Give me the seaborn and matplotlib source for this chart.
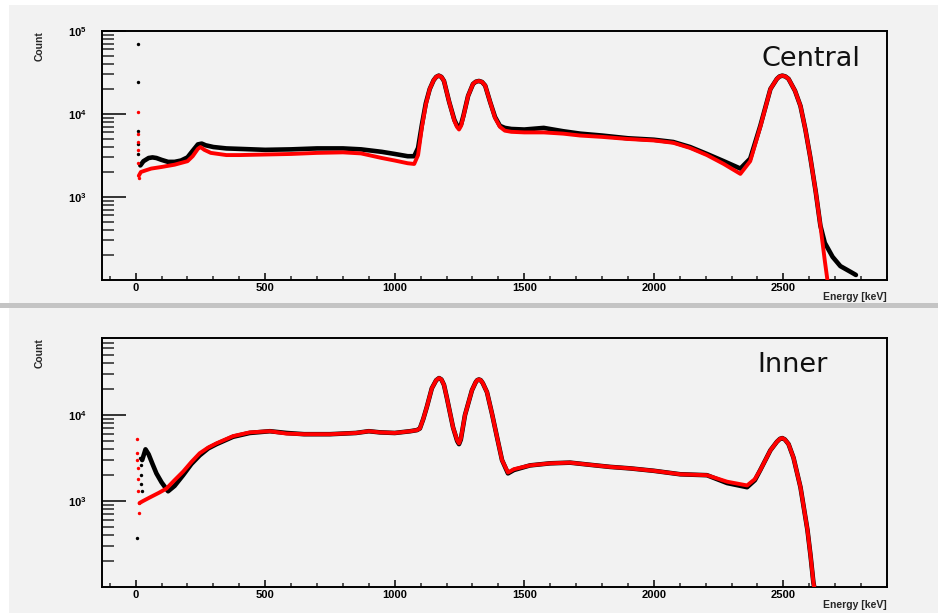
import math
import matplotlib
matplotlib.use("Agg")
import matplotlib.pyplot as plt
import seaborn as sns
from matplotlib.ticker import FixedLocator, MultipleLocator, NullFormatter, FuncFormatter
from matplotlib.patches import Rectangle

sns.set_theme(style="ticks")
plt.rcParams['font.family'] = ['Liberation Sans', 'DejaVu Sans']
plt.rcParams['mathtext.default'] = 'regular'

# ---------------- data ----------------
# Top panel "Central"
top_black_E = [18, 30, 50, 65, 80, 100, 125, 150, 175, 200, 220, 240, 255, 270, 300, 350, 400,
               500, 600, 700, 800, 870, 950, 1000, 1050, 1075, 1090, 1105, 1120, 1135, 1150, 1160, 1170,
               1180, 1190, 1210, 1230, 1240, 1248, 1256, 1265, 1283, 1302, 1313, 1325, 1337, 1349, 1368, 1387,
               1406, 1425, 1450, 1500, 1575, 1650, 1716, 1800, 1900, 2000, 2075, 2140, 2205, 2270, 2334,
               2372, 2411, 2450, 2475, 2485, 2496, 2508, 2520, 2545, 2566, 2585, 2604, 2625, 2643, 2660,
               2690, 2720, 2760, 2780]
top_black_C = [2400, 2700, 2950, 3000, 2950, 2800, 2650, 2650, 2750, 3000, 3600, 4300, 4400, 4200, 4000, 3850, 3800,
               3700, 3750, 3850, 3850, 3750, 3500, 3300, 3100, 3100, 3900, 7500, 13500, 20000, 25500, 28000, 29000,
               28000, 25000, 14000, 8500, 7300, 6900, 7500, 9500, 16500, 23000, 24500, 25000, 24300, 22000, 14000, 9200,
               7200, 6800, 6600, 6500, 6800, 6200, 5800, 5500, 5100, 4900, 4600, 4000, 3300, 2700, 2200,
               2900, 7200, 20000, 26500, 28300, 29000, 28300, 26500, 19000, 12500, 6500, 3000, 1150, 450, 280,
               190, 147, 125, 115]
top_red_E = [12, 20, 40, 60, 100, 150, 200, 220, 240, 250, 265, 290, 350, 400,
             500, 600, 700, 800, 870, 950, 1000, 1050, 1075, 1090, 1105, 1120, 1135, 1150, 1160, 1170,
             1180, 1190, 1210, 1230, 1240, 1248, 1256, 1265, 1283, 1302, 1313, 1325, 1337, 1349, 1368, 1387,
             1406, 1425, 1450, 1500, 1575, 1650, 1716, 1800, 1900, 2000, 2075, 2140, 2205, 2270, 2334,
             2372, 2411, 2450, 2475, 2485, 2496, 2508, 2520, 2545, 2566, 2585, 2604, 2625, 2643, 2660, 2672]
top_red_C = [1800, 2000, 2100, 2200, 2300, 2450, 2700, 3100, 3800, 4000, 3700, 3400, 3200, 3200,
             3250, 3300, 3400, 3450, 3350, 2950, 2750, 2550, 2500, 3200, 7000, 13000, 20000, 25500, 28000, 29000,
             28000, 25000, 14000, 8300, 7000, 6500, 7200, 9300, 16500, 23000, 24500, 25000, 24300, 22000, 14000, 9000,
             7000, 6300, 6100, 6000, 6000, 5800, 5500, 5300, 5000, 4800, 4500, 3900, 3200, 2500, 1900,
             2700, 7000, 20000, 26500, 28300, 29000, 28300, 26500, 19000, 12500, 6500, 3000, 1150, 450, 170, 90]
top_black_spike_E = [8, 8, 9, 9, 10]
top_black_spike_C = [69000, 24000, 6300, 4300, 3300]
top_red_spike_E = [8, 9, 9, 10, 10, 11]
top_red_spike_C = [10500, 5800, 4600, 3700, 2600, 1700]

# Bottom panel "Inner"
bot_black_E = [25, 38, 50, 65, 80, 100, 125, 150, 183, 215, 247, 280, 312, 376, 440, 518, 582,
               650, 750, 850, 900, 943, 1000, 1060, 1086, 1097, 1110, 1124, 1143, 1160, 1171,
               1180, 1190, 1201, 1225, 1241, 1248, 1255, 1271, 1298, 1312, 1318, 1325, 1332, 1340, 1356, 1375,
               1395, 1414, 1437, 1460, 1522, 1600, 1677, 1750, 1830, 1909, 2000, 2102, 2205, 2283, 2360,
               2390, 2411, 2450, 2475, 2487, 2496, 2506, 2520, 2539, 2566, 2593, 2605, 2616, 2622]
bot_black_C = [3000, 4000, 3500, 2700, 2100, 1650, 1300, 1500, 2000, 2700, 3400, 4100, 4600, 5600, 6200, 6500, 6200,
               6000, 6000, 6200, 6500, 6300, 6200, 6500, 6700, 7000, 9000, 12500, 20500, 25500, 27000,
               26000, 22500, 16000, 7200, 5000, 4600, 5200, 10000, 19500, 24000, 25500, 26000, 25500, 23500, 18500, 10500,
               5500, 3000, 2100, 2300, 2600, 2750, 2800, 2650, 2500, 2400, 2250, 2050, 2000, 1620, 1450,
               1750, 2300, 3900, 4900, 5300, 5400, 5200, 4600, 3200, 1450, 460, 230, 112, 90]
bot_red_E = [15, 28, 54, 90, 119, 150, 183, 215, 247, 280, 312, 376, 440, 518, 582,
             650, 750, 850, 900, 943, 1000, 1060, 1086, 1097, 1110, 1124, 1143, 1160, 1171,
             1180, 1190, 1201, 1225, 1241, 1248, 1255, 1271, 1298, 1312, 1318, 1325, 1332, 1340, 1356, 1375,
             1395, 1414, 1437, 1460, 1522, 1600, 1677, 1750, 1830, 1909, 2000, 2102, 2205, 2283, 2360,
             2390, 2411, 2450, 2475, 2487, 2496, 2506, 2520, 2539, 2566, 2593, 2605, 2616, 2622]
bot_red_C = [950, 1000, 1100, 1250, 1400, 1750, 2200, 2850, 3600, 4200, 4700, 5700, 6300, 6500, 6100,
             6000, 6000, 6200, 6500, 6300, 6200, 6500, 6700, 7000, 9000, 12500, 20500, 25500, 27000,
             26000, 22500, 16000, 7200, 5100, 4700, 5300, 10000, 19500, 24000, 25500, 26000, 25500, 23500, 18500, 10500,
             5500, 3000, 2150, 2350, 2600, 2750, 2800, 2650, 2500, 2400, 2250, 2050, 2000, 1680, 1520,
             1800, 2300, 3900, 4900, 5300, 5400, 5200, 4600, 3200, 1450, 460, 230, 112, 90]
bot_black_spike_E = [5, 18, 20, 21, 22, 23]
bot_black_spike_C = [370, 3200, 2600, 2000, 1600, 1300]
bot_red_spike_E = [5, 6, 7, 8, 9, 10, 12, 14]
bot_red_spike_C = [5300, 3600, 3000, 2400, 1800, 1300, 950, 730]

panel_titles = ["Central", "Inner"]
x_ticks = [0, 500, 1000, 1500, 2000, 2500]

# ---------------- figure ----------------
W, H = 938, 613
fig = plt.figure(figsize=(W / 100, H / 100), dpi=100, facecolor='white')
BG = '#f2f2f2'


def fx(px):
    return px / W


def fy(py):
    return 1 - py / H


fig.add_artist(Rectangle((fx(9), fy(303)), 1, fy(5) - fy(303), transform=fig.transFigure,
                         facecolor=BG, edgecolor='none', zorder=0))
fig.add_artist(Rectangle((fx(9), 0), 1, fy(308), transform=fig.transFigure,
                         facecolor=BG, edgecolor='none', zorder=0))
fig.add_artist(Rectangle((0, fy(308)), 1, fy(303) - fy(308), transform=fig.transFigure,
                         facecolor='#c4c4c4', edgecolor='none', zorder=0))


def make_axes(top, bottom):
    ax = fig.add_axes([fx(102), fy(bottom), fx(887) - fx(102), fy(top) - fy(bottom)])
    ax.set_facecolor(BG)
    return ax


ax1 = make_axes(31, 280)
ax2 = make_axes(338, 587)

panels = [
    (ax1, top_black_E, top_black_C, top_red_E, top_red_C,
     top_black_spike_E, top_black_spike_C, top_red_spike_E, top_red_spike_C, (100, 1e5), [1e3, 1e4, 1e5]),
    (ax2, bot_black_E, bot_black_C, bot_red_E, bot_red_C,
     bot_black_spike_E, bot_black_spike_C, bot_red_spike_E, bot_red_spike_C, (100, 7.9e4), [1e3, 1e4]),
]

for (ax, bE, bC, rE, rC, bsE, bsC, rsE, rsC, ylim, majors) in panels:
    sns.lineplot(x=bE, y=bC, ax=ax, color='black', lw=3.3, sort=False, estimator=None, zorder=3,
                 solid_joinstyle='round', solid_capstyle='round')
    sns.scatterplot(x=bsE, y=bsC, ax=ax, color='black', s=6, linewidth=0, zorder=3)
    sns.lineplot(x=rE, y=rC, ax=ax, color='#ff0000', lw=2.8, sort=False, estimator=None, zorder=4,
                 solid_joinstyle='round', solid_capstyle='round')
    sns.scatterplot(x=rsE, y=rsC, ax=ax, color='#ff0000', s=6, linewidth=0, zorder=4)
    ax.set_yscale('log')
    ax.set_xlim(-130, 2900)
    ax.set_ylim(*ylim)
    ax.yaxis.set_major_locator(FixedLocator(majors))
    minors = [m * 10 ** d for d in range(2, 5) for m in range(2, 10)]
    ax.yaxis.set_minor_locator(FixedLocator(minors))
    ax.yaxis.set_major_formatter(FuncFormatter(lambda v, p: r'$10^{%d}$' % round(math.log10(v))))
    ax.yaxis.set_minor_formatter(NullFormatter())
    ax.xaxis.set_major_locator(FixedLocator(x_ticks))
    ax.xaxis.set_minor_locator(MultipleLocator(100))
    ax.tick_params(axis='y', which='major', direction='in', length=17, width=1.1, pad=11,
                   labelsize=8, colors='black')
    ax.tick_params(axis='y', which='minor', direction='in', length=8.5, width=1.1)
    ax.tick_params(axis='x', which='major', direction='in', length=5, width=1.1, pad=2,
                   labelsize=8, colors='black')
    ax.tick_params(axis='x', which='minor', direction='in', length=3, width=1.1)
    for lab in ax.get_xticklabels() + ax.get_yticklabels():
        lab.set_fontweight('bold')
    for s in ax.spines.values():
        s.set_visible(True)
        s.set_linewidth(1.4)
        s.set_color('black')
    ax.set_xlabel('')
    ax.set_ylabel('')

# panel titles
fig.text(fx(811), fy(59), panel_titles[0], ha='center', va='center', fontsize=19.5,
         family='DejaVu Sans', color='#111111')
fig.text(fx(793), fy(365), panel_titles[1], ha='center', va='center', fontsize=19.5,
         family='DejaVu Sans', color='#111111')

# axis titles
for ytop, ybottom in [(31, 297), (338, 605)]:
    fig.text(fx(40), fy(ytop + 15), 'Count', rotation=90, ha='center', va='center',
             fontsize=7.5, weight='bold')
    fig.text(fx(887), fy(ybottom), 'Energy [keV]', ha='right', va='center',
             fontsize=7.5, weight='bold')

fig.savefig('out.png', dpi=100, facecolor=fig.get_facecolor())
